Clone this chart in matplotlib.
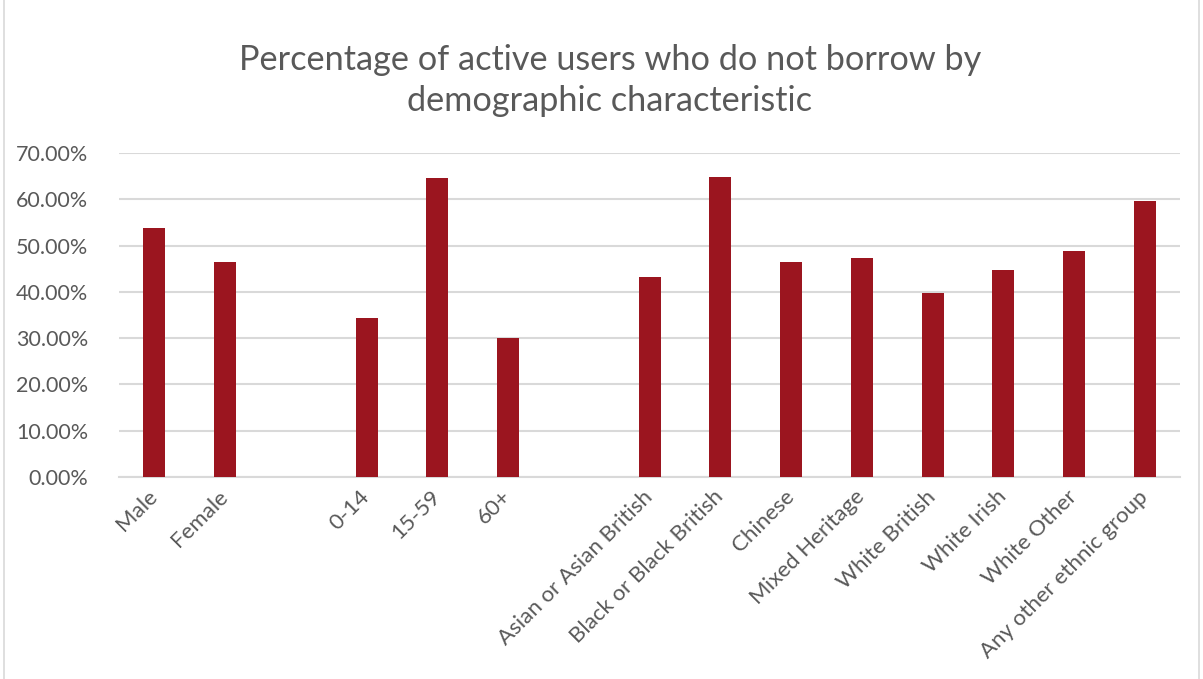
import numpy as np
import matplotlib.pyplot as plt
from matplotlib.ticker import FuncFormatter, MultipleLocator
from matplotlib.patches import Rectangle

# percentage of active users who do not borrow, grouped by characteristic
gender = ["Male", "Female"]
gender_pct = [53.9, 46.5]

age = ["0-14", "15-59", "60+"]
age_pct = [34.3, 64.5, 30.0]

ethnicity = ["Asian or Asian British", "Black or Black British", "Chinese",
             "Mixed Heritage", "White British", "White Irish", "White Other",
             "Any other ethnic group"]
ethnicity_pct = [43.1, 64.8, 46.4, 47.4, 39.7, 44.8, 48.9, 59.6]

# blank slot between each group
labels = gender + [""] + age + [""] + ethnicity
values = gender_pct + [np.nan] + age_pct + [np.nan] + ethnicity_pct

grey = "#595959"
plt.rcParams["font.family"] = ["Lato", "DejaVu Sans"]

fig = plt.figure(figsize=(12.03, 6.79), dpi=100)
ax = fig.add_axes([0.0989, 0.2975, 0.8821, 0.4772])

x = np.arange(len(labels))
ax.bar(x, values, width=0.31, color="#9b151f", zorder=3)

ax.set_xlim(-0.5, len(labels) - 0.5)
ax.set_ylim(0, 70)
ax.yaxis.set_major_locator(MultipleLocator(10))
ax.yaxis.set_major_formatter(FuncFormatter(lambda v, p: f"{v:.2f}%"))
ax.grid(axis="y", color="#d9d9d9", linewidth=1.5, zorder=0)

for s in ["top", "right", "left"]:
    ax.spines[s].set_visible(False)
ax.spines["bottom"].set_color("#d9d9d9")
ax.spines["bottom"].set_linewidth(1.5)

ax.tick_params(axis="both", length=0, colors=grey, labelsize=15.5)
ax.tick_params(axis="y", pad=22)
ax.set_xticks(x)
ax.set_xticklabels(labels, rotation=45, ha="right", va="center",
                   rotation_mode="anchor", color=grey, fontsize=16)
ax.tick_params(axis="x", pad=12)

fig.text(0.507, 0.882, "Percentage of active users who do not borrow by\ndemographic characteristic",
         ha="center", va="center", fontsize=24.7, color=grey, linespacing=1.35)

# light chart border
fig.patches.append(Rectangle((0.003, -0.01), 0.994, 1.02, transform=fig.transFigure,
                             fill=False, edgecolor="#d9d9d9", linewidth=1.2))

fig.savefig("out.png", dpi=100)
